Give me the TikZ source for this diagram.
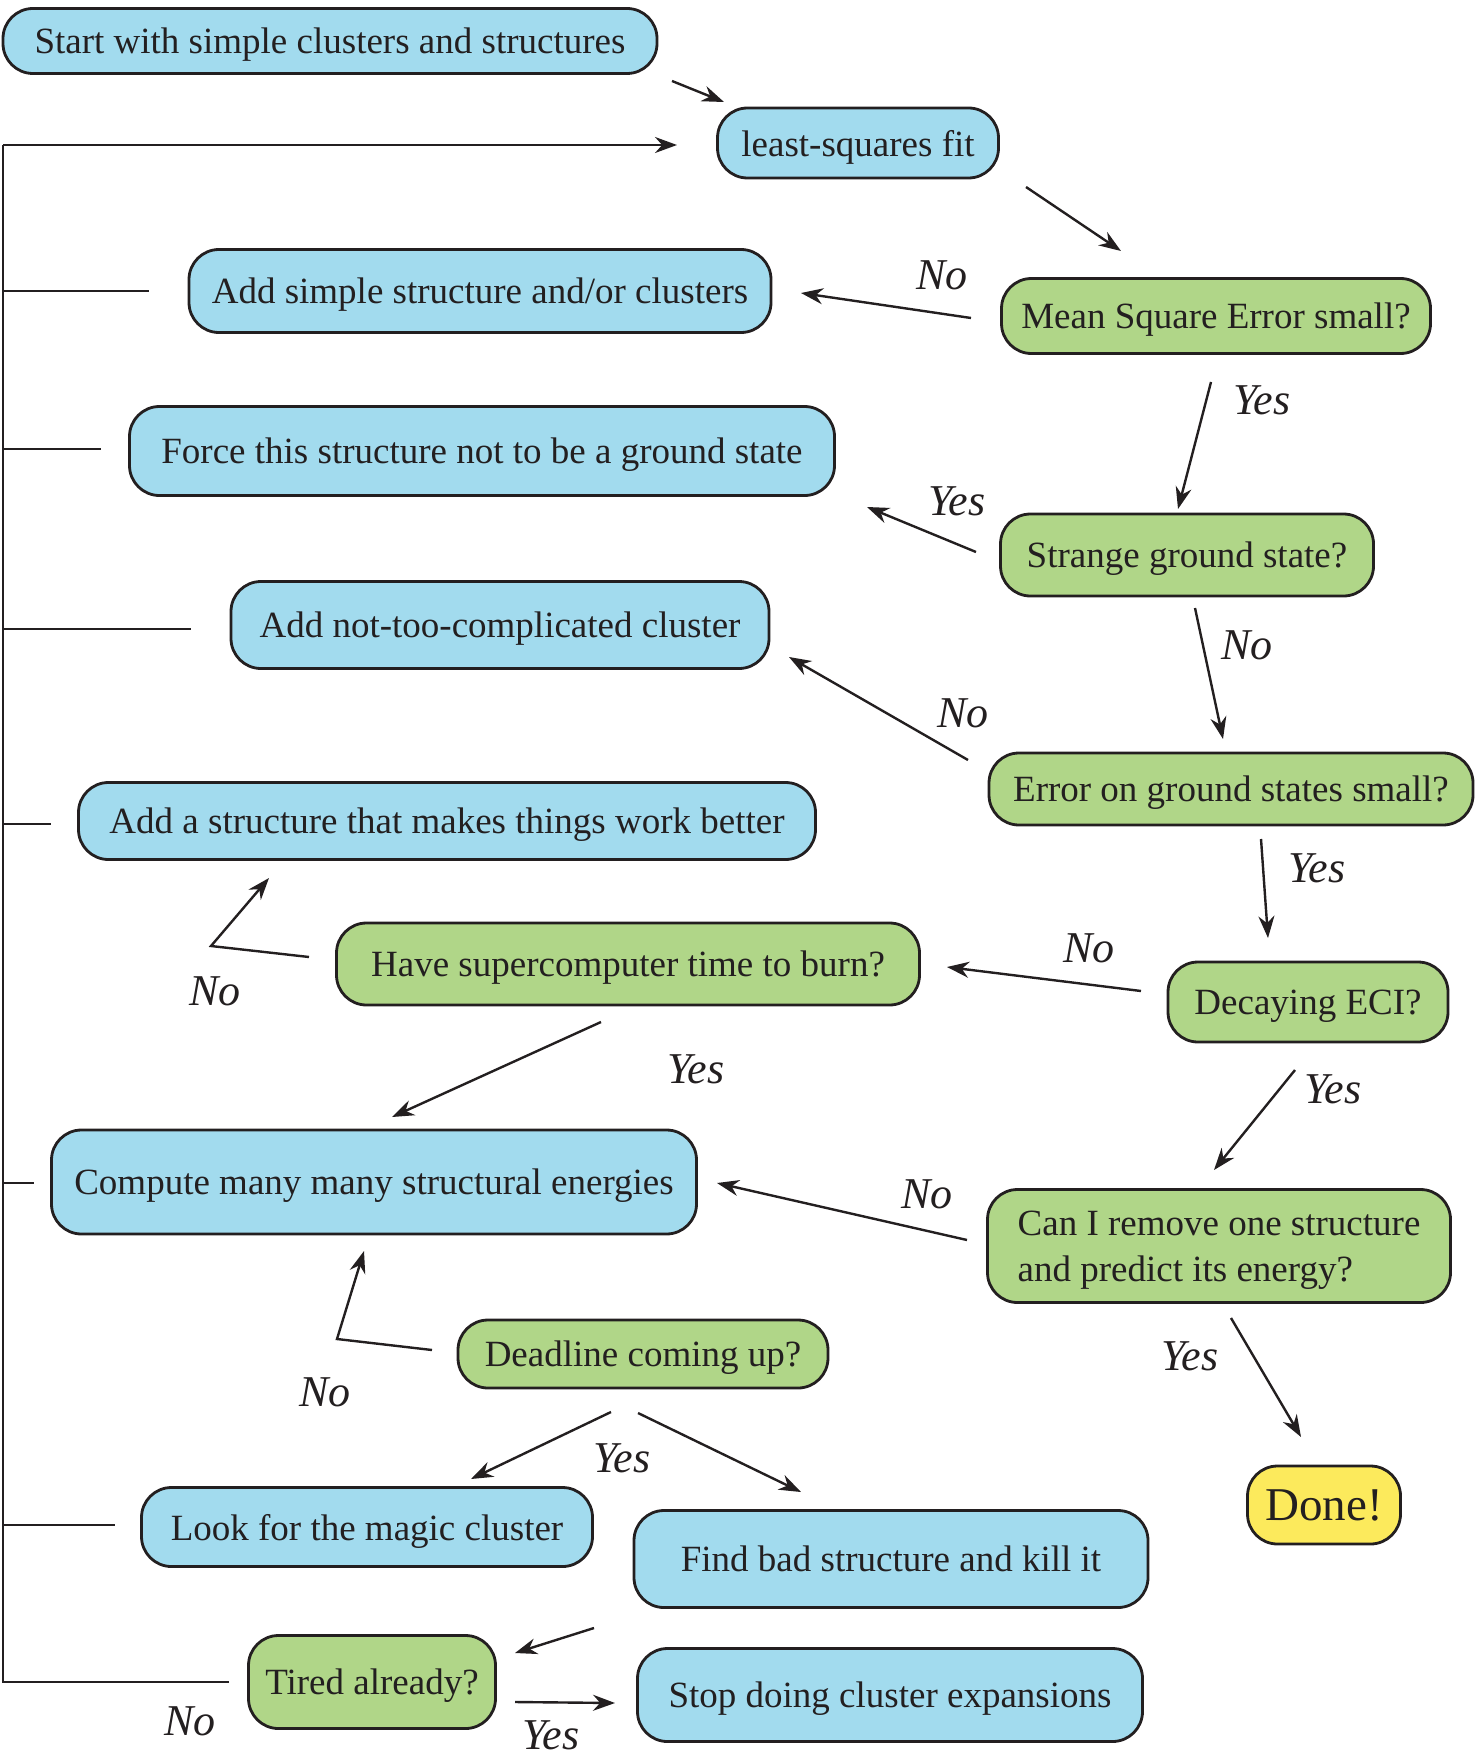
\documentclass[tikz,border=0pt]{standalone}
\usepackage{fontspec}
\setmainfont{Liberation Serif}
\usetikzlibrary{arrows.meta}
\definecolor{bluefill}{RGB}{162,219,238}
\definecolor{greenfill}{RGB}{176,214,136}
\definecolor{yellowfill}{RGB}{252,234,92}
\definecolor{ink}{RGB}{35,31,32}
\tikzset{
  box/.style={draw=ink, line width=1.4pt, rounded corners=15pt, inner sep=0pt,
    text=ink, text depth=0pt, font=\fontsize{18.5}{23}\selectfont},
  bluebox/.style={box, fill=bluefill},
  greenbox/.style={box, fill=greenfill},
  donebox/.style={box, fill=yellowfill, font=\fontsize{23.5}{28}\selectfont},
  conn/.style={draw=ink, line width=1.2pt, -{Stealth[length=11pt,width=8pt]}},
  plainline/.style={draw=ink, line width=1.2pt},
  lbl/.style={text=ink, inner sep=0pt, font=\fontsize{22}{26}\selectfont\itshape},
}
\begin{document}
\begin{tikzpicture}[x=0.5pt,y=-0.5pt]
\useasboundingbox (0,0) rectangle (1476,1755);

% nodes
\node[bluebox, minimum width=327pt, minimum height=32.5pt] (start) at (330,41) {Start with simple clusters and structures};
\node[bluebox, minimum width=140.5pt, minimum height=35pt] (lsf) at (858,143) {least-squares fit};
\node[bluebox, minimum width=291pt, minimum height=41.5pt] (addsimple) at (480,291) {Add simple structure and/or clusters};
\node[greenbox, minimum width=214.5pt, minimum height=37.5pt] (mse) at (1216,316) {Mean Square Error small?};
\node[bluebox, minimum width=352.5pt, minimum height=44.5pt] (force) at (482,451) {Force this structure not to be a ground state};
\node[greenbox, minimum width=186.5pt, minimum height=41pt] (strange) at (1187,555) {Strange ground state?};
\node[bluebox, minimum width=269pt, minimum height=43.5pt] (addnot) at (500,625) {Add not-too-complicated cluster};
\node[greenbox, minimum width=242pt, minimum height=36pt] (errgs) at (1231,789) {Error on ground states small?};
\node[bluebox, minimum width=368.5pt, minimum height=38.5pt] (addstruct) at (447,821) {Add a structure that makes things work better};
\node[greenbox, minimum width=291.5pt, minimum height=41pt] (have) at (628,964) {Have supercomputer time to burn?};
\node[greenbox, minimum width=140pt, minimum height=40pt] (decay) at (1308,1002) {Decaying ECI?};
\node[bluebox, minimum width=322.5pt, minimum height=52pt] (compute) at (374,1182) {Compute many many structural energies};
\node[greenbox, minimum width=231.5pt, minimum height=56.5pt, align=left] (cani) at (1219,1246) {Can I remove one structure\\and predict its energy?};
\node[greenbox, minimum width=185pt, minimum height=34pt] (deadline) at (643,1354) {Deadline coming up?};
\node[donebox, minimum width=76.5pt, minimum height=39pt] (done) at (1324,1505) {Done!};
\node[bluebox, minimum width=225.5pt, minimum height=39.5pt] (look) at (367,1527) {Look for the magic cluster};
\node[bluebox, minimum width=257pt, minimum height=48.5pt] (find) at (891,1559) {Find bad structure and kill it};
\node[greenbox, minimum width=123.5pt, minimum height=46.5pt] (tired) at (372,1682) {Tired already?};
\node[bluebox, minimum width=252.5pt, minimum height=46.5pt] (stop) at (890,1695) {Stop doing cluster expansions};

% arrow endpoints
\coordinate (a1) at (672,81);   \coordinate (a2) at (724,102);
\coordinate (b1) at (1026,187); \coordinate (b2) at (1121,251);
\coordinate (c1) at (971,318);  \coordinate (c2) at (801,293);
\coordinate (d1) at (1211,382); \coordinate (d2) at (1178,509);
\coordinate (e1) at (976,552);  \coordinate (e2) at (867,507);
\coordinate (f1) at (1195,608); \coordinate (f2) at (1223,739);
\coordinate (g1) at (968,760);  \coordinate (g2) at (789,657);
\coordinate (h1) at (1261,839); \coordinate (h2) at (1268,938);
\coordinate (i1) at (1141,991); \coordinate (i2) at (947,967);
\coordinate (j1) at (309,957);  \coordinate (j2) at (211,946); \coordinate (j3) at (269,878);
\coordinate (k1) at (601,1022); \coordinate (k2) at (392,1117);
\coordinate (l1) at (1295,1070);\coordinate (l2) at (1214,1170);
\coordinate (m1) at (967,1240); \coordinate (m2) at (717,1183);
\coordinate (n1) at (1231,1318);\coordinate (n2) at (1301,1437);
\coordinate (o1) at (432,1350); \coordinate (o2) at (337,1339); \coordinate (o3) at (364,1251);
\coordinate (p1) at (611,1412); \coordinate (p2) at (471,1479);
\coordinate (q1) at (638,1413); \coordinate (q2) at (801,1492);
\coordinate (r1) at (594,1628); \coordinate (r2) at (515,1653);
\coordinate (s1) at (515,1702); \coordinate (s2) at (615,1703);

\draw[conn] (a1) -- (a2);
\draw[conn] (b1) -- (b2);
\draw[conn] (c1) -- (c2);
\draw[conn] (d1) -- (d2);
\draw[conn] (e1) -- (e2);
\draw[conn] (f1) -- (f2);
\draw[conn] (g1) -- (g2);
\draw[conn] (h1) -- (h2);
\draw[conn] (i1) -- (i2);
\draw[conn] (j1) -- (j2) -- (j3);
\draw[conn] (k1) -- (k2);
\draw[conn] (l1) -- (l2);
\draw[conn] (m1) -- (m2);
\draw[conn] (n1) -- (n2);
\draw[conn] (o1) -- (o2) -- (o3);
\draw[conn] (p1) -- (p2);
\draw[conn] (q1) -- (q2);
\draw[conn] (r1) -- (r2);
\draw[conn] (s1) -- (s2);

% feedback loop
\coordinate (fbtop) at (3,145);
\coordinate (fbin) at (677,145);
\coordinate (fbbot) at (3,1682);
\coordinate (fbtired) at (229,1682);
\draw[plainline] (fbtired) -- (fbbot) -- (fbtop);
\draw[conn] (fbtop) -- (fbin);
\coordinate (t1) at (3,291);  \coordinate (u1) at (149,291);
\coordinate (t2) at (3,449);  \coordinate (u2) at (101,449);
\coordinate (t3) at (3,629);  \coordinate (u3) at (191,629);
\coordinate (t4) at (3,824);  \coordinate (u4) at (51,824);
\coordinate (t5) at (3,1183); \coordinate (u5) at (34,1183);
\coordinate (t6) at (3,1525); \coordinate (u6) at (115,1525);
\draw[plainline] (t1) -- (u1);
\draw[plainline] (t2) -- (u2);
\draw[plainline] (t3) -- (u3);
\draw[plainline] (t4) -- (u4);
\draw[plainline] (t5) -- (u5);
\draw[plainline] (t6) -- (u6);

% labels
\node[lbl] (lc) at (942,275) {No};
\node[lbl] (ld) at (1262,400) {Yes};
\node[lbl] (le) at (957,501) {Yes};
\node[lbl] (lf) at (1247,645) {No};
\node[lbl] (lg) at (963,713) {No};
\node[lbl] (lh) at (1317,868) {Yes};
\node[lbl] (li) at (1089,948) {No};
\node[lbl] (lj) at (215,991) {No};
\node[lbl] (lk) at (696,1069) {Yes};
\node[lbl] (ll) at (1333,1089) {Yes};
\node[lbl] (lm) at (927,1194) {No};
\node[lbl] (ln) at (1190,1356) {Yes};
\node[lbl] (lo) at (325,1392) {No};
\node[lbl] (lq) at (622,1458) {Yes};
\node[lbl] (ls) at (551,1735) {Yes};
\node[lbl] (lt) at (190,1721) {No};
\end{tikzpicture}
\end{document}
